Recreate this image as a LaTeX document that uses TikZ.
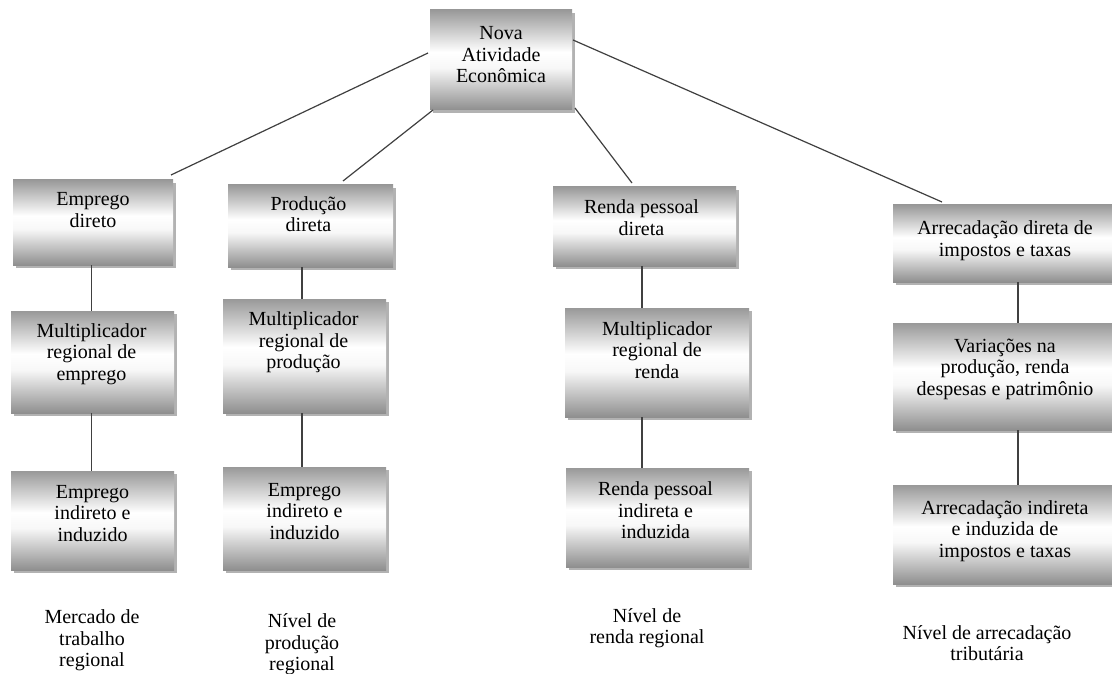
\documentclass[tikz,border=0pt]{standalone}
\usepackage{fontspec}
\setmainfont{Liberation Serif}
\usetikzlibrary{calc,shadows}
\definecolor{mtop}{gray}{0.60}
\definecolor{mbot}{gray}{0.56}
\definecolor{mlight}{gray}{0.97}
\definecolor{linec}{gray}{0.25}
\pgfdeclareverticalshading{metal}{100bp}{color(0bp)=(mbot); color(25bp)=(mbot); color(46bp)=(mlight); color(54bp)=(white); color(75bp)=(mtop); color(100bp)=(mtop)}
% text block shifted by (dx, raise) inside a box
\newcommand\bt[3]{\raisebox{#2}[0pt][0pt]{\makebox[0pt][c]{\hspace*{#1}\hspace*{#1}\begin{tabular}{@{}c@{}}#3\end{tabular}}}}
\begin{document}
\begin{tikzpicture}[x=1pt, y=-1pt, font=\fontsize{20}{21.5}\selectfont,
  box/.style={rectangle, shading=metal, inner sep=0pt, outer sep=0pt,
    drop shadow={shadow xshift=3pt, shadow yshift=-3pt, fill=black!60, opacity=0.5}},
  conn/.style={draw=linec, line width=1.2pt},
  lab/.style={inner sep=0pt, outer sep=0pt}]
\useasboundingbox (0,0) rectangle (1112,674);
\fill[white] (0,0) rectangle (1112,674);
\clip (0,0) rectangle (1112,674);

% top
\node[box, minimum width=142pt, minimum height=100pt] (nova) at (501,60) {\bt{0pt}{-2pt}{Nova\\Atividade\\Econômica}};

% column 1
\node[box, minimum width=160pt, minimum height=85pt] (c1a) at (93,222.5) {\bt{0pt}{5pt}{Emprego\\direto}};
\node[box, minimum width=163pt, minimum height=102pt] (c1b) at (92.5,362) {\bt{-1pt}{2.5pt}{Multiplicador\\regional de\\emprego}};
\node[box, minimum width=163pt, minimum height=99pt] (c1c) at (92.5,520.5) {\bt{0pt}{0pt}{Emprego\\indireto e\\induzido}};

% column 2
\node[box, minimum width=165pt, minimum height=82pt] (c2a) at (310.5,226) {\bt{-2pt}{4pt}{Produção\\direta}};
\node[box, minimum width=163pt, minimum height=114pt] (c2b) at (304.5,356) {\bt{-1pt}{8pt}{Multiplicador\\regional de\\produção}};
\node[box, minimum width=163pt, minimum height=103pt] (c2c) at (304.5,518.5) {\bt{0pt}{0pt}{Emprego\\indireto e\\induzido}};

% column 3
\node[box, minimum width=183pt, minimum height=79pt] (c3a) at (644.5,226.5) {\bt{-3pt}{1pt}{Renda pessoal\\direta}};
\node[box, minimum width=184pt, minimum height=109pt] (c3b) at (657,362.5) {\bt{0pt}{5pt}{Multiplicador\\regional de\\renda}};
\node[box, minimum width=183pt, minimum height=99pt] (c3c) at (657.5,517.5) {\bt{-2pt}{-0.5pt}{Renda pessoal\\indireta e\\induzida}};

% column 4
\node[box, minimum width=250pt, minimum height=77pt] (c4a) at (1018,243.5) {\bt{-13pt}{-3pt}{Arrecadação direta de\\impostos e taxas}};
\node[box, minimum width=250pt, minimum height=107pt] (c4b) at (1018,376.5) {\bt{-13pt}{2pt}{Variações na\\produção, renda\\despesas e patrimônio}};
\node[box, minimum width=250pt, minimum height=99pt] (c4c) at (1018,534.5) {\bt{-13pt}{-2pt}{Arrecadação indireta\\e induzida de\\impostos e taxas}};

% bottom labels
\node[lab] (l1) at (92,641) {\bt{0pt}{-5pt}{Mercado de\\trabalho\\regional}};
\node[lab] (l2) at (302,645) {\bt{0pt}{-5pt}{Nível de\\produção\\regional}};
\node[lab] (l3) at (647,629) {\bt{0pt}{-5pt}{Nível de\\renda regional}};
\node[lab] (l4) at (987,646) {\bt{0pt}{-5pt}{Nível de arrecadação\\tributária}};

% connectors from the top box
\draw[conn] ($(nova.north west)+(-2,43)$) -- ($(c1a.north west)+(158,-5)$);
\draw[conn] ($(nova.south west)+(3,0)$) -- ($(c2a.north west)+(115,-4)$);
\draw[conn] ($(nova.south east)+(3,-2)$) -- ($(c3a.north west)+(79,-4)$);
\draw[conn] ($(nova.north east)+(1,30)$) -- ($(c4a.north west)+(49,-3)$);

% vertical connectors
\coordinate (x1) at (91.5,0);
\coordinate (x2) at (302,0);
\coordinate (x3) at (642,0);
\coordinate (x4) at (1018,0);
\draw[conn] (c1a.south -| x1) -- (c1b.north -| x1);
\draw[conn] (c1b.south -| x1) -- (c1c.north -| x1);
\draw[conn] (c2a.south -| x2) -- (c2b.north -| x2);
\draw[conn] (c2b.south -| x2) -- (c2c.north -| x2);
\draw[conn] (c3a.south -| x3) -- (c3b.north -| x3);
\draw[conn] (c3b.south -| x3) -- (c3c.north -| x3);
\draw[conn] (c4a.south -| x4) -- (c4b.north -| x4);
\draw[conn] (c4b.south -| x4) -- (c4c.north -| x4);
\end{tikzpicture}
\end{document}
